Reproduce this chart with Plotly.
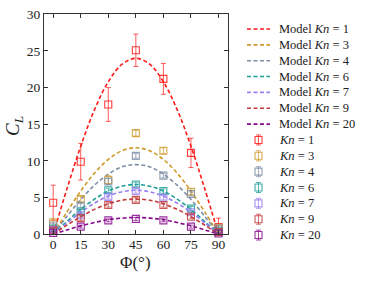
import plotly.graph_objects as go

# ---------------- data ----------------
phi = [0, 15, 30, 45, 60, 75, 90]
kn_labels = ["1", "3", "4", "6", "7", "9", "20"]

cl_kn1 = [4.3, 9.9, 17.7, 25.1, 21.2, 11.1, 1.0]
cl_kn3 = [1.6, 4.8, 7.4, 13.8, 11.4, 5.8, 0.9]
cl_kn4 = [1.2, 3.9, 7.2, 10.7, 8.0, 5.5, 0.8]
cl_kn6 = [0.8, 3.1, 6.0, 6.8, 5.9, 3.5, 0.4]
cl_kn7 = [0.6, 2.6, 5.1, 5.9, 5.0, 3.0, 0.3]
cl_kn9 = [0.5, 2.2, 4.0, 4.7, 4.0, 2.4, 0.3]
cl_kn20 = [0.2, 1.05, 1.9, 2.1, 1.9, 1.05, 0.1]

err_kn1 = [2.4, 2.5, 2.3, 2.2, 2.1, 2.0, 1.2]
err_kn3 = [0.5, 0.4, 0.6, 0.4, 0.4, 0.4, 0.3]
err_kn4 = [0.3, 0.3, 0.4, 0.3, 0.3, 0.3, 0.3]
err_kn6 = [0.3, 0.3, 0.3, 0.3, 0.3, 0.3, 0.2]
err_kn7 = [0.3, 0.3, 0.3, 0.3, 0.3, 0.3, 0.2]
err_kn9 = [0.3, 0.3, 0.3, 0.3, 0.3, 0.3, 0.2]
err_kn20 = [0.2, 0.2, 0.2, 0.2, 0.2, 0.2, 0.1]

phi_model = [0, 7.5, 15, 22.5, 30, 37.5, 45, 52.5, 60, 67.5, 75, 82.5, 90]
model_kn1 = [0, 6.2, 12.0, 17.0, 20.8, 23.2, 24.0, 23.2, 20.8, 17.0, 12.0, 6.2, 0]
model_kn3 = [0, 3.05, 5.9, 8.35, 10.2, 11.4, 11.8, 11.4, 10.2, 8.35, 5.9, 3.05, 0]
model_kn4 = [0, 2.45, 4.75, 6.7, 8.2, 9.2, 9.5, 9.2, 8.2, 6.7, 4.75, 2.45, 0]
model_kn6 = [0, 1.75, 3.4, 4.8, 5.9, 6.55, 6.8, 6.55, 5.9, 4.8, 3.4, 1.75, 0]
model_kn7 = [0, 1.55, 3.0, 4.25, 5.2, 5.8, 6.0, 5.8, 5.2, 4.25, 3.0, 1.55, 0]
model_kn9 = [0, 1.25, 2.4, 3.4, 4.15, 4.65, 4.8, 4.65, 4.15, 3.4, 2.4, 1.25, 0]
model_kn20 = [0, 0.6, 1.15, 1.6, 2.0, 2.2, 2.3, 2.2, 2.0, 1.6, 1.15, 0.6, 0]

x_ticks = [0, 15, 30, 45, 60, 75, 90]
y_ticks = [0, 5, 10, 15, 20, 25, 30]

# ---------------- styling ----------------
colors = ["#ff1a1a", "#cf9a2b", "#7d8ea6", "#1b9e97", "#9b7ff0", "#c23a3a", "#860a8c"]
FONT = "Liberation Serif, DejaVu Serif, serif"

data_sets = [cl_kn1, cl_kn3, cl_kn4, cl_kn6, cl_kn7, cl_kn9, cl_kn20]
err_sets = [err_kn1, err_kn3, err_kn4, err_kn6, err_kn7, err_kn9, err_kn20]
model_sets = [model_kn1, model_kn3, model_kn4, model_kn6, model_kn7, model_kn9, model_kn20]

fig = go.Figure()

def rgba(hexc, a):
    h = hexc.lstrip("#")
    r, g, b = int(h[0:2], 16), int(h[2:4], 16), int(h[4:6], 16)
    return f"rgba({r},{g},{b},{a})"

for m, c in zip(model_sets, colors):
    fig.add_trace(go.Scatter(
        x=phi_model, y=m, mode="lines", line=dict(color=c, width=1.6, dash="4px,2.5px", shape="spline"),
        showlegend=False, hoverinfo="skip"))

for d, e, c in zip(data_sets, err_sets, colors):
    fig.add_trace(go.Scatter(
        x=phi, y=d, mode="markers",
        marker=dict(symbol="square-open", size=7, color=rgba(c, 0.85), line=dict(width=1.1)),
        error_y=dict(type="data", array=e, color=rgba(c, 0.8), thickness=0.9, width=2.5),
        showlegend=False, hoverinfo="skip", cliponaxis=False))

W, H = 374, 281
L, R, T, B = 44, 227.7, 14.3, 234.3
LEG_X = 247

# ---------------- custom legend (pixel-mapped helper axes) ----------------
row0, row_step = 29, 15.85
for i, (lab, c) in enumerate(zip(kn_labels, colors)):
    y = row0 + row_step * i
    fig.add_trace(go.Scatter(x=[0, 23], y=[y, y], mode="lines", xaxis="x2", yaxis="y2",
                             line=dict(color=c, width=1.6, dash="4px,2.5px"),
                             showlegend=False, hoverinfo="skip"))
    fig.add_annotation(x=30, y=y, xref="x2", yref="y2", text=f"Model <i>Kn</i> = {lab}",
                       showarrow=False, xanchor="left", yanchor="middle",
                       font=dict(family=FONT, size=12.5, color="#222"))
for i, (lab, c) in enumerate(zip(kn_labels, colors)):
    y = row0 + row_step * (i + 7)
    fig.add_trace(go.Scatter(x=[11.5], y=[y], mode="markers", xaxis="x2", yaxis="y2",
                             marker=dict(symbol="square-open", size=7, color=rgba(c, 0.85), line=dict(width=1.1)),
                             error_y=dict(type="data", array=[5], color=rgba(c, 0.8), thickness=0.9, width=2.5),
                             showlegend=False, hoverinfo="skip", cliponaxis=False))
    fig.add_annotation(x=30, y=y, xref="x2", yref="y2", text=f"<i>Kn</i> = {lab}",
                       showarrow=False, xanchor="left", yanchor="middle",
                       font=dict(family=FONT, size=12.5, color="#222"))

axis_common = dict(showline=True, linecolor="#333", linewidth=1, mirror="ticks",
                   ticks="inside", ticklen=4, tickwidth=1, tickcolor="#333",
                   showgrid=False, zeroline=False, automargin=False,
                   tickfont=dict(family=FONT, size=13.5, color="#222"))

fig.update_layout(
    width=W, height=H,
    margin=dict(l=0, r=0, t=0, b=0, pad=0, autoexpand=False),
    paper_bgcolor="white", plot_bgcolor="white",
    showlegend=False,
    xaxis=dict(domain=[L / W, R / W], range=[-5, 95], tickvals=x_ticks,
               ticklabelstandoff=-3, **axis_common),
    yaxis=dict(domain=[(H - B) / H, (H - T) / H], range=[0, 30], tickvals=y_ticks,
               ticklabelstandoff=0, **axis_common),
    xaxis2=dict(domain=[LEG_X / W, 1], range=[0, W - LEG_X], visible=False, anchor="y2"),
    yaxis2=dict(domain=[0, 1], range=[H, 0], visible=False, anchor="x2"),
)

fig.add_annotation(x=(L + R) / 2 / W, y=(H - 262) / H, xref="paper", yref="paper",
                   text="Φ(°)", showarrow=False, xanchor="center", yanchor="middle",
                   font=dict(family=FONT, size=17, color="#222"))
fig.add_annotation(x=14 / W, y=(H - 126) / H, xref="paper", yref="paper",
                   text="<i>C</i><sub><i>L</i></sub>", showarrow=False, textangle=-90,
                   xanchor="center", yanchor="middle",
                   font=dict(family=FONT, size=19, color="#222"))

fig.write_html("out.html", config={"displayModeBar": False},
               post_script="document.body.style.margin='0';")
